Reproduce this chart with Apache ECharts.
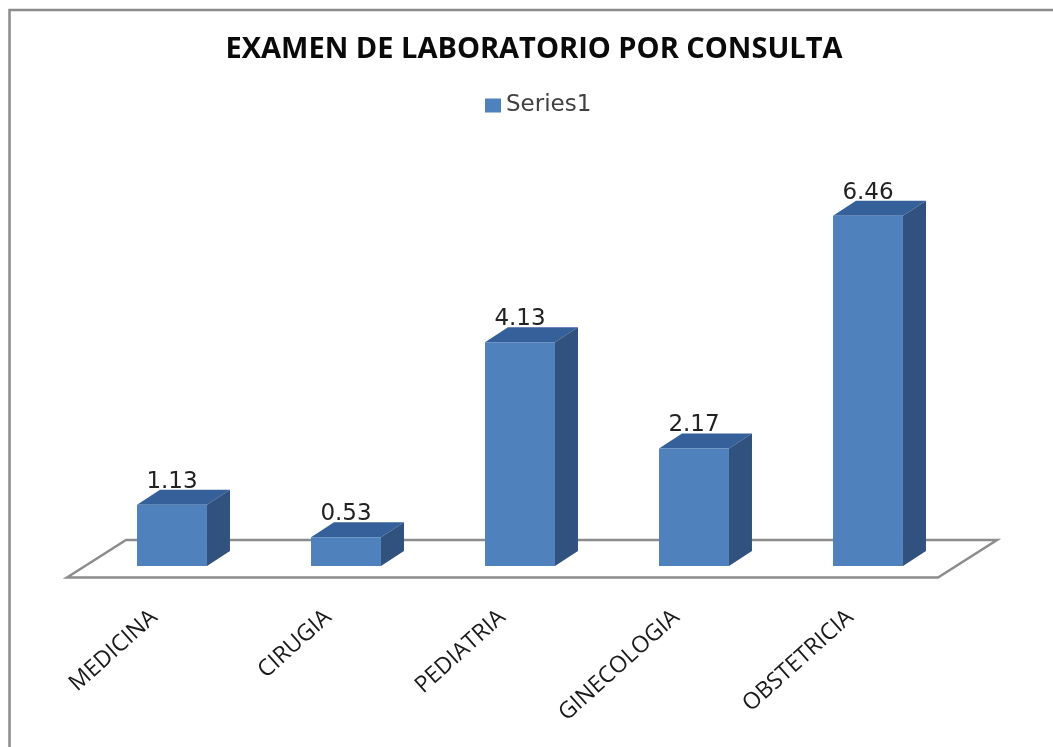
<!DOCTYPE html>
<html>
<head>
<meta charset="utf-8">
<style>
  html, body { margin: 0; padding: 0; background: #fff; }
  #chart { width: 1053px; height: 747px; }
</style>
<script src="https://cdn.jsdelivr.net/npm/echarts@6/dist/echarts.min.js"></script>
</head>
<body>
<div id="chart"></div>
<script>
var titleText = 'EXAMEN DE LABORATORIO POR CONSULTA'
var seriesName = 'Series1'
var categories = ['MEDICINA', 'CIRUGIA', 'PEDIATRIA', 'GINECOLOGIA', 'OBSTETRICIA']
var values = [1.13, 0.53, 4.13, 2.17, 6.46]

var chart = echarts.init(document.getElementById('chart'), null, { renderer: 'canvas' })

// fake 3d column: front face, top and side, all from the axis scales
function renderBar(params, api) {
  var top = api.coord([api.value(0), api.value(1)])
  var base = api.coord([api.value(0), 0])
  var w = api.size([1, 0])[0] * 0.402
  var dx = 23
  var dy = 15
  var l = top[0] - w / 2
  var r = top[0] + w / 2
  return {
    type: 'group',
    children: [
      {
        type: 'polygon',
        shape: { points: [[l, top[1]], [l + dx, top[1] - dy], [r + dx, top[1] - dy], [r, top[1]]] },
        style: { fill: '#36609a' }
      },
      {
        type: 'polygon',
        shape: { points: [[r, top[1]], [r + dx, top[1] - dy], [r + dx, base[1] - dy], [r, base[1]]] },
        style: { fill: '#31527f' }
      },
      {
        type: 'rect',
        shape: { x: l, y: top[1], width: w, height: base[1] - top[1] },
        style: { fill: '#4f81bd' }
      },
      {
        type: 'text',
        x: top[0],
        y: top[1] - 23,
        style: {
          text: api.value(1).toFixed(2),
          fill: '#222',
          font: '23px "DejaVu Sans"',
          align: 'center',
          verticalAlign: 'middle'
        }
      }
    ]
  }
}

chart.setOption({
  animation: false,
  backgroundColor: '#fff',
  title: {
    text: titleText,
    left: 529,
    top: 30,
    textAlign: 'center',
    textStyle: { color: '#0a0a0a', fontFamily: 'Open Sans', fontWeight: 'bold', fontSize: 29 }
  },
  legend: {
    data: [{ name: seriesName, icon: 'rect', itemStyle: { color: '#4f81bd' } }],
    left: 480,
    top: 89,
    itemWidth: 16,
    itemHeight: 14,
    textStyle: { color: '#404040', fontFamily: 'DejaVu Sans', fontSize: 23 }
  },
  grid: { left: 85, top: 186.6, width: 870, height: 379.4 },
  xAxis: {
    type: 'category',
    data: categories,
    axisLine: { show: false },
    axisTick: { show: false },
    axisLabel: {
      interval: 0,
      rotate: 42,
      margin: 32,
      padding: [0, 24, 0, 0],
      color: '#1a1a1a',
      fontFamily: 'Open Sans',
      fontSize: 23
    }
  },
  yAxis: { type: 'value', min: 0, max: 7, show: false },
  series: [{
    type: 'custom',
    name: seriesName,
    renderItem: renderBar,
    encode: { x: 0, y: 1 },
    itemStyle: { color: '#4f81bd' },
    data: values.map(function (v, i) { return [i, v] }),
    z: 5
  }],
  graphic: [
    {
      // floor
      type: 'polygon',
      z: 1,
      shape: { points: [[67, 577.5], [126, 540], [997, 540], [938, 577.5]] },
      style: { fill: '#fff', stroke: '#8c8c8c', lineWidth: 2.5 }
    },
    {
      // outer frame
      type: 'polyline',
      z: 1,
      shape: { points: [[9.5, 747], [9.5, 10], [1053, 10]] },
      style: { fill: 'none', stroke: '#8c8c8c', lineWidth: 2.5 }
    }
  ]
})
</script>
</body>
</html>
